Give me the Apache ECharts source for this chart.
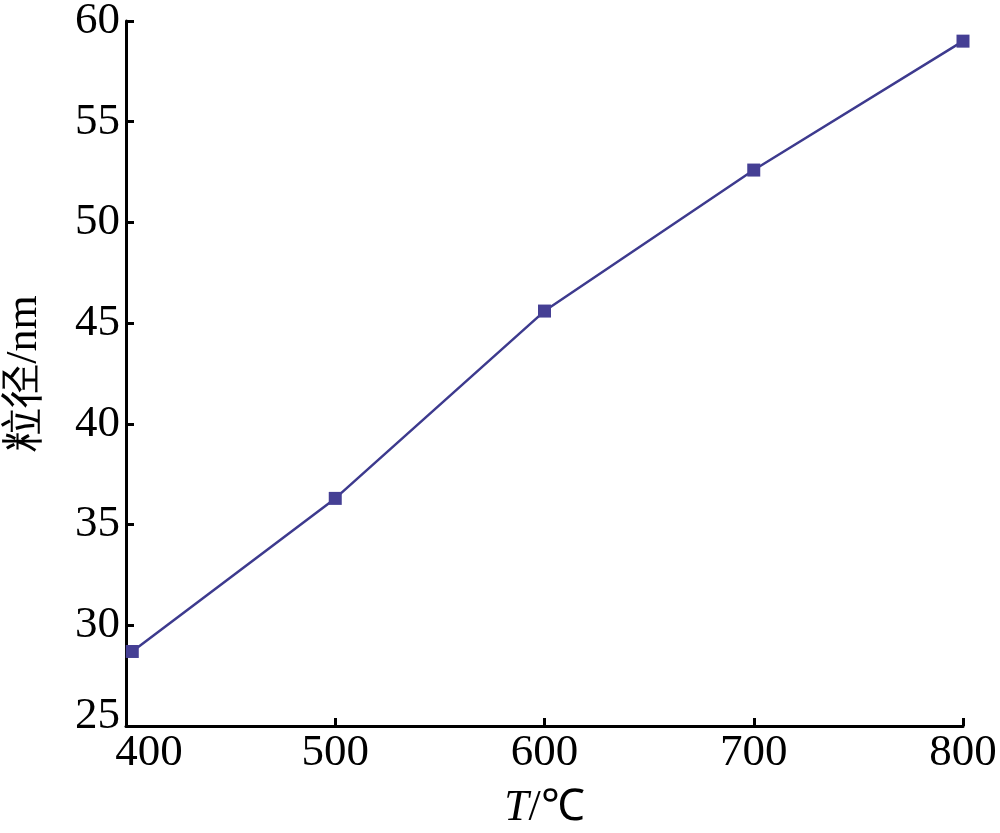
<!DOCTYPE html>
<html>
<head>
<meta charset="utf-8">
<script src="https://cdn.jsdelivr.net/npm/echarts@6/dist/echarts.min.js"></script>
<style>
html,body{margin:0;padding:0;background:#fff;}
#c{width:1000px;height:833px;}
</style>
</head>
<body>
<div id="c"></div>
<script>
// Data
const temperatures = [403, 500, 600, 700, 800];
const sizes = [28.7, 36.3, 45.6, 52.6, 59.0];
const xTicks = [400, 500, 600, 700, 800];
const yTicks = [25, 30, 35, 40, 45, 50, 55, 60];
const xName = 'T/℃';
const yName = '粒径/nm';

const serif = "Liberation Serif";
const lineColor = '#3d3a8e';

const chart = echarts.init(document.getElementById('c'), null, {renderer: 'canvas'});
chart.setOption({
  animation: false,
  backgroundColor: '#ffffff',
  grid: {left: 126, right: 37, top: 21, bottom: 107, containLabel: false, outerBoundsMode: 'none'},
  xAxis: {
    type: 'value',
    min: xTicks[0], max: xTicks[xTicks.length - 1], interval: 100,
    name: '{i|T}/℃',
    nameLocation: 'middle',
    nameGap: 60,
    nameTextStyle: {color: '#000', fontFamily: serif, fontSize: 44,
      rich: {i: {fontStyle: 'italic', fontFamily: serif, fontSize: 44, color: '#000'}}},
    axisLine: {show: true, lineStyle: {color: '#000', width: 3}},
    axisTick: {show: true, inside: true, length: 8, lineStyle: {color: '#000', width: 3}},
    axisLabel: {
      color: '#000', fontFamily: serif, fontSize: 45, margin: 5,
      formatter: function (v) { return v === xTicks[0] ? '{f|' + v + '}' : String(v); },
      rich: {f: {color: '#000', fontFamily: serif, fontSize: 45, padding: [0, 0, 0, 46]}}
    },
    splitLine: {show: false}
  },
  yAxis: {
    type: 'value',
    min: yTicks[0], max: yTicks[yTicks.length - 1], interval: 5,
    name: yName,
    nameLocation: 'middle',
    nameGap: 80,
    nameRotate: 90,
    nameTextStyle: {color: '#000', fontFamily: serif, fontSize: 44},
    axisLine: {show: true, lineStyle: {color: '#000', width: 3}},
    axisTick: {show: true, inside: true, length: 8, lineStyle: {color: '#000', width: 3}},
    axisLabel: {
      color: '#000', fontFamily: serif, fontSize: 45, margin: 6,
      formatter: function (v) { return v === yTicks[0] ? '{b|' + v + '}' : String(v); },
      rich: {b: {color: '#000', fontFamily: serif, fontSize: 45, padding: [0, 0, 20, 0]}}
    },
    splitLine: {show: false}
  },
  series: [{
    type: 'line',
    data: temperatures.map((t, i) => [t, sizes[i]]),
    symbol: 'rect',
    symbolSize: 13,
    clip: false,
    lineStyle: {color: lineColor, width: 2.5},
    itemStyle: {color: '#453f94'}
  }]
});
</script>
</body>
</html>
